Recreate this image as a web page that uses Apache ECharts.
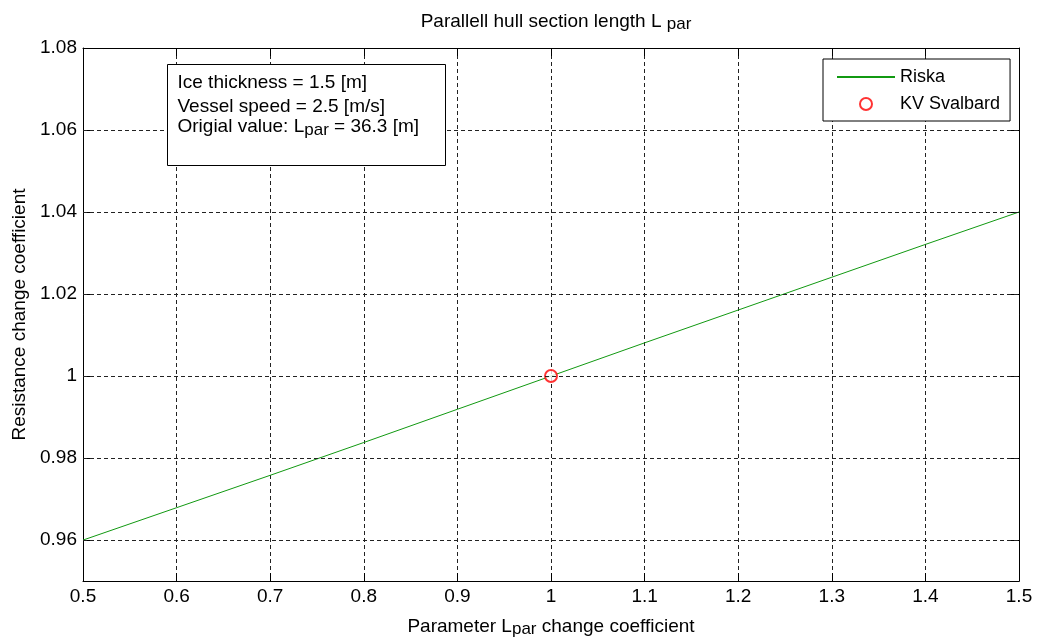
<!DOCTYPE html>
<html>
<head>
<meta charset="utf-8">
<script src="https://cdn.jsdelivr.net/npm/echarts@6/dist/echarts.min.js"></script>
<style>html,body{margin:0;padding:0;background:#fff}#c{width:1037px;height:643px}</style>
</head>
<body>
<div id="c"></div>
<script>
// Data
const xValues = [0.5, 0.6, 0.7, 0.8, 0.9, 1.0, 1.1, 1.2, 1.3, 1.4, 1.5];
const rValues = [0.960, 0.9679, 0.9758, 0.9838, 0.9919, 1.000, 1.0081, 1.0161, 1.0241, 1.0321, 1.040];
const svalbardPoint = [[1.0, 1.0]];
const yTicks = [0.96, 0.98, 1.00, 1.02, 1.04, 1.06, 1.08];
const yLabels = ['0.96', '0.98', '1', '1.02', '1.04', '1.06', '1.08'];
const infoLines = ['Ice thickness = 1.5 [m]', 'Vessel speed = 2.5 [m/s]', 'Origial value: L{s|par} = 36.3 [m]'];

const FONT = 'Liberation Sans, Arial, sans-serif';
const FS = 19;
const richSub = {
  m: { fontSize: FS, fontFamily: FONT, color: '#000', lineHeight: 21, verticalAlign: 'top', fontWeight: 'normal' },
  s: { fontSize: 17, fontFamily: FONT, color: '#000', lineHeight: 17, verticalAlign: 'bottom', padding: [10, 0, 0, 0], fontWeight: 'normal' }
};
function wrapRich(str) {
  return str.split(/(\{s\|[^}]*\})/).map(p => p.startsWith('{s|') ? p : (p ? '{m|' + p + '}' : '')).join('');
}

const chart = echarts.init(document.getElementById('c'), null, { renderer: 'canvas' });
const dash = { color: '#222', type: [4, 3], width: 1 };
const option = {
  animation: false,
  backgroundColor: '#fff',
  textStyle: { fontFamily: FONT },
  title: {
    text: wrapRich('Parallell hull section length L {s|par}'),
    left: 551, textAlign: 'center', top: 7,
    textStyle: { rich: richSub, fontWeight: 'normal' }
  },
  grid: { left: 83, right: 18, top: 48, bottom: 60, containLabel: false },
  legend: {
    orient: 'vertical', left: 823, top: 59,
    padding: [8, 10, 7, 13],
    itemWidth: 58, itemHeight: 12, itemGap: 7,
    backgroundColor: '#fff', borderColor: '#000', borderWidth: 1, borderRadius: 0,
    textStyle: { fontSize: 18, fontFamily: FONT, color: '#000', lineHeight: 20 },
    data: [{ name: 'Riska', itemStyle: { opacity: 0 } }, { name: 'KV Svalbard' }]
  },
  xAxis: [{
    type: 'value', min: 0.5, max: 1.5, interval: 0.1,
    position: 'bottom',
    name: wrapRich('Parameter L{s|par} change coefficient'),
    nameLocation: 'middle', nameGap: 27,
    nameTextStyle: { rich: richSub },
    axisLine: { show: true, onZero: false, lineStyle: { color: '#000', width: 1 } },
    axisTick: { show: true, inside: true, length: 8, lineStyle: { color: '#000' } },
    axisLabel: { fontSize: FS, color: '#000', fontFamily: FONT, margin: 6,
      formatter: v => String(Math.round(v * 10) / 10) },
    splitLine: { show: true, lineStyle: dash }
  }, {
    type: 'value', min: 0.5, max: 1.5, interval: 0.1,
    position: 'top',
    axisLine: { show: true, onZero: false, lineStyle: { color: '#000', width: 1 } },
    axisTick: { show: true, inside: true, length: 8, lineStyle: { color: '#000' } },
    axisLabel: { show: false },
    splitLine: { show: false }
  }],
  yAxis: [{
    type: 'value', min: 0.95, max: 1.08,
    position: 'left',
    name: 'Resistance change coefficient',
    nameLocation: 'middle', nameGap: 54,
    nameTextStyle: { fontSize: FS, color: '#000', fontFamily: FONT },
    axisLine: { show: true, onZero: false, lineStyle: { color: '#000', width: 1 } },
    axisTick: { show: true, inside: true, length: 8, customValues: yTicks, lineStyle: { color: '#000' } },
    axisLabel: { fontSize: FS, color: '#000', fontFamily: FONT, margin: 6, customValues: yTicks,
      formatter: v => { const i = yTicks.findIndex(t => Math.abs(t - v) < 1e-9); return i >= 0 ? yLabels[i] : ''; } },
    splitLine: { show: false }
  }, {
    type: 'value', min: 0.95, max: 1.08,
    position: 'right',
    axisLine: { show: true, onZero: false, lineStyle: { color: '#000', width: 1 } },
    axisTick: { show: true, inside: true, length: 8, customValues: yTicks, lineStyle: { color: '#000' } },
    axisLabel: { show: false },
    splitLine: { show: false }
  }],
  series: [{
    name: 'Riska', type: 'line', xAxisIndex: 0, yAxisIndex: 0,
    symbol: 'none', smooth: false,
    lineStyle: { color: '#119911', width: 1 },
    itemStyle: { color: '#119911' },
    data: xValues.map((x, i) => [x, rValues[i]]),
    markLine: {
      silent: true, symbol: ['none', 'none'], label: { show: false },
      lineStyle: dash, animation: false,
      data: yTicks.slice(0, -1).map(v => ({ yAxis: v }))
    },
    z: 3
  }, {
    name: 'KV Svalbard', type: 'scatter', xAxisIndex: 0, yAxisIndex: 0,
    symbol: 'emptyCircle', symbolSize: 12,
    itemStyle: { color: '#ff0000', borderColor: '#ff0000', borderWidth: 1 },
    data: svalbardPoint, z: 4
  }],
  graphic: [{
    type: 'group', left: 167, top: 64, z: 100,
    children: [{
      type: 'rect', z: 100, shape: { x: 0, y: 0, width: 278, height: 101 },
      style: { fill: '#fff', stroke: '#000', lineWidth: 1 }
    }].concat(infoLines.map((t, i) => ({
      type: 'text', z: 101, x: 10, y: [9, 33, 53][i],
      style: { text: wrapRich(t), rich: richSub, fill: '#000' }
    })))
  }]
};
chart.setOption(option);
</script>
</body>
</html>
